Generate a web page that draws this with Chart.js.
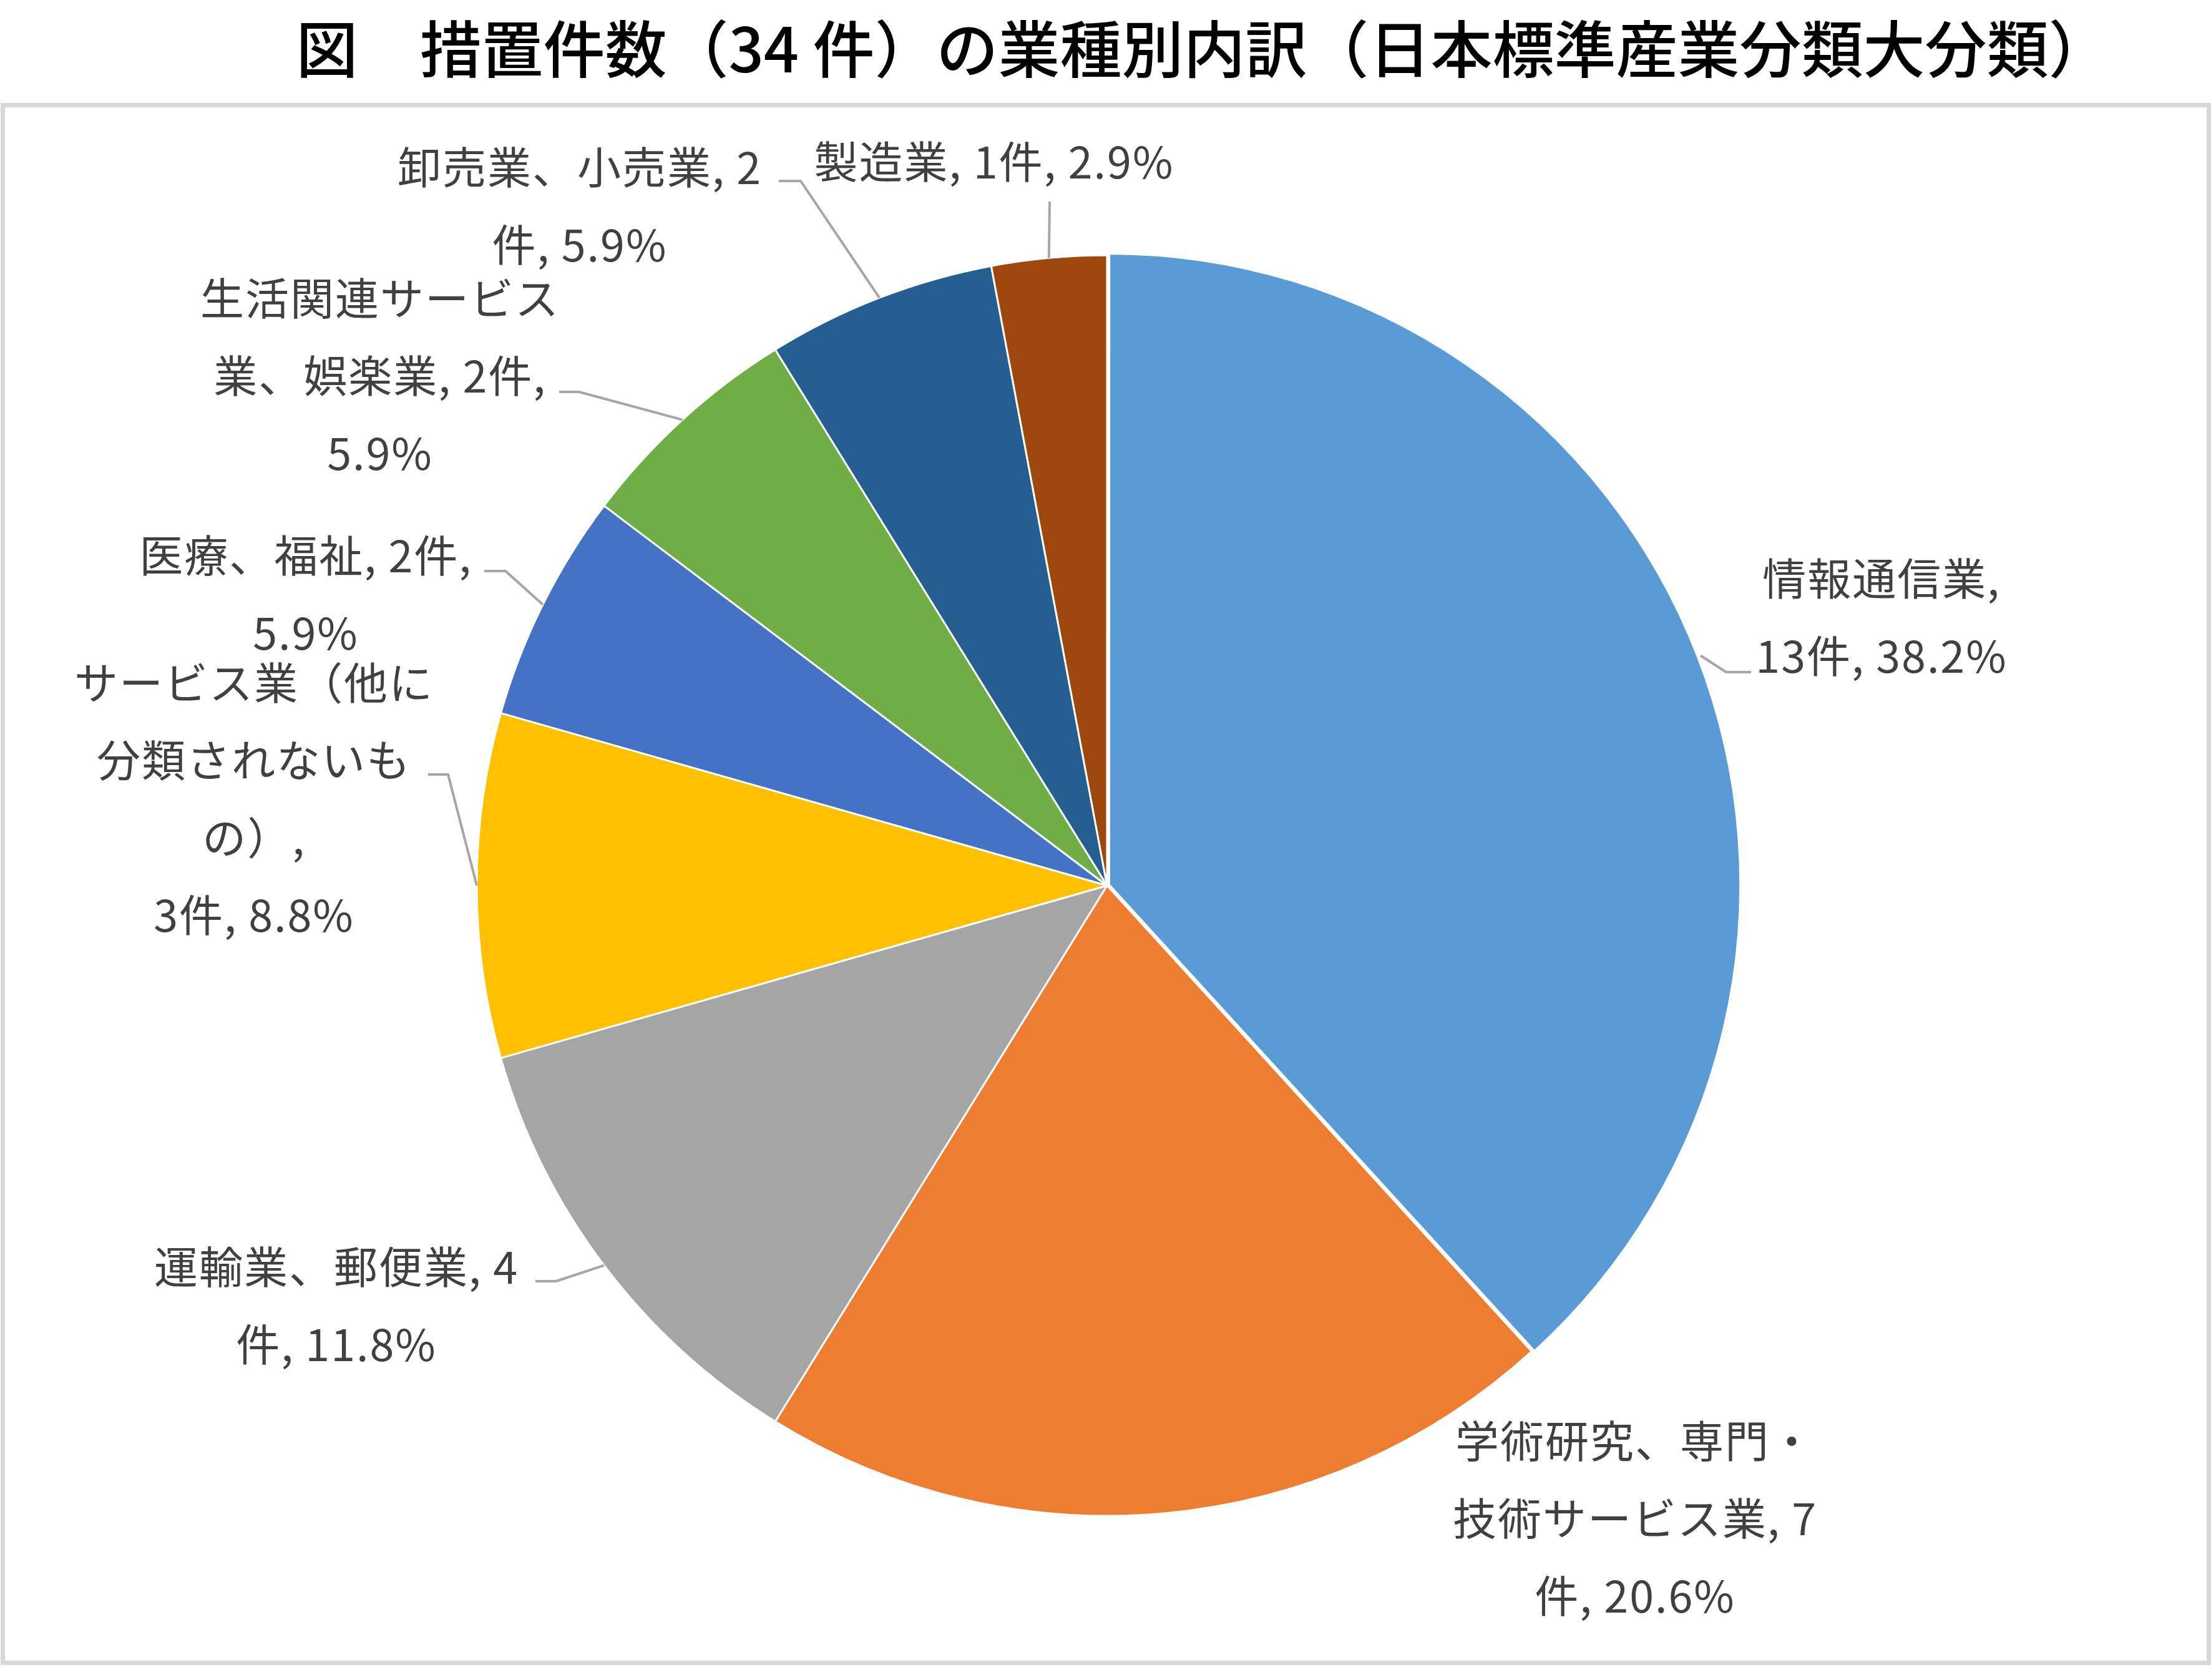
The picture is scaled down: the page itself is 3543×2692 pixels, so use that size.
<!DOCTYPE html>
<html lang="ja">
<head>
<meta charset="utf-8">
<title>措置件数の業種別内訳</title>
<script src="https://cdn.jsdelivr.net/npm/chart.js@4.4.0/dist/chart.umd.min.js"></script>
<style>
    html, body {
        margin: 0;
        padding: 0;
        background: #ffffff;
        width: 3543px;
        height: 2692px;
        overflow: hidden;
    }
    .chart-title {
        position: absolute;
        top: 24px;
        left: 1928px;
        transform: translateX(-50%);
        white-space: nowrap;
        font-family: "Noto Sans CJK JP", sans-serif;
        font-weight: 500;
        font-size: 99px;
        line-height: 99px;
        color: #000000;
    }
    .chart-frame {
        position: absolute;
        left: 1px;
        top: 165px;
        width: 3528px;
        height: 2489px;
        border: 7px solid #d9d9d9;
    }
    #pieChart {
        position: absolute;
        left: 0;
        top: 0;
    }
</style>
</head>
<body>
<div class="chart-title">図　措置件数（34 件）の業種別内訳（日本標準産業分類大分類）</div>
<div class="chart-frame"></div>
<canvas id="pieChart" width="3543" height="2692"></canvas>

<script>
// Data - clockwise from 12 o'clock
const categories = [
    '情報通信業',
    '学術研究、専門・技術サービス業',
    '運輸業、郵便業',
    'サービス業（他に分類されないもの）',
    '医療、福祉',
    '生活関連サービス業、娯楽業',
    '卸売業、小売業',
    '製造業'
];
const counts = [13, 7, 4, 3, 2, 2, 2, 1];
const sliceColors = ['#5b9bd5', '#ed7d31', '#a5a5a5', '#ffc000', '#4472c4', '#70ad47', '#255e91', '#9e480e'];

// Label layout (canvas px): where each label sits and where it wraps
const labelAnchors = [
    [3015, 927], [2620, 2309], [539, 2030], [407, 1094],
    [490, 890], [609, 478], [929, 268], [1593, 259]
];
const labelBreaks = [[6], [8, 18], [10], [8, 15, 18], [10], [8, 18], [10], []];
// leader line: label-side start point and elbow, the end is the slice's arc midpoint
const leaderLines = [
    [[2806, 1077], [2766, 1077]],
    null,
    [[858, 2053], [891, 2053]],
    [[686, 1241], [718, 1241]],
    [[776, 915], [810, 915]],
    [[896, 628], [928, 628]],
    [[1248, 290], [1283, 290]],
    [[1682, 323]]
];
const LINE_HEIGHT = 124;

function splitAt(text, breaks) {
    const lines = [];
    let prev = 0;
    breaks.forEach(b => {
        lines.push(text.slice(prev, b).trim());
        prev = b;
    });
    lines.push(text.slice(prev).trim());
    return lines;
}

// Draws data labels with leader lines
const sliceLabels = {
    id: 'sliceLabels',
    afterDatasetsDraw(chart) {
        const ctx = chart.ctx;
        const meta = chart.getDatasetMeta(0);
        const total = counts.reduce((a, b) => a + b, 0);

        ctx.save();
        meta.data.forEach((arc, i) => {
            const mid = (arc.startAngle + arc.endAngle) / 2;
            // same shift the arc element uses for an exploded slice
            const off = (arc.options.offset || 0) / 2;
            const fix = 1 - Math.sin(Math.min(Math.PI, arc.circumference || 0));
            const shift = off + off * fix;
            const ex = arc.x + Math.cos(mid) * (arc.outerRadius + shift);
            const ey = arc.y + Math.sin(mid) * (arc.outerRadius + shift);

            const lead = leaderLines[i];
            if (lead) {
                ctx.beginPath();
                ctx.moveTo(lead[0][0], lead[0][1]);
                for (let k = 1; k < lead.length; k++) {
                    ctx.lineTo(lead[k][0], lead[k][1]);
                }
                ctx.lineTo(ex, ey);
                ctx.strokeStyle = '#a6a6a6';
                ctx.lineWidth = 4;
                ctx.lineJoin = 'round';
                ctx.stroke();
            }

            const pct = (counts[i] / total * 100).toFixed(1);
            const text = `${categories[i]}, ${counts[i]}件, ${pct}%`;
            const lines = splitAt(text, labelBreaks[i]);
            ctx.font = '400 70px "Noto Sans CJK JP", sans-serif';
            if ('letterSpacing' in ctx) ctx.letterSpacing = '2px';
            ctx.fillStyle = '#404040';
            ctx.textAlign = 'center';
            ctx.textBaseline = 'middle';
            lines.forEach((line, n) => {
                ctx.fillText(line, labelAnchors[i][0], labelAnchors[i][1] + n * LINE_HEIGHT);
            });
        });
        ctx.restore();
    }
};

new Chart(document.getElementById('pieChart'), {
    type: 'pie',
    data: {
        labels: categories,
        datasets: [{
            data: counts,
            backgroundColor: sliceColors,
            borderColor: '#ffffff',
            borderWidth: 3,
            offset: [15, 0, 0, 0, 0, 0, 0, 0]
        }]
    },
    options: {
        responsive: false,
        animation: false,
        radius: 1010,
        layout: {
            padding: { left: 5, right: 0, top: 146, bottom: 0 }
        },
        plugins: {
            legend: { display: false },
            tooltip: { enabled: false },
            title: { display: false }
        }
    },
    plugins: [sliceLabels]
});
</script>
</body>
</html>
